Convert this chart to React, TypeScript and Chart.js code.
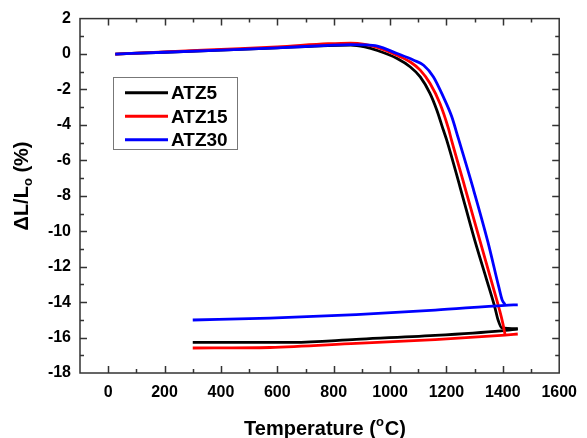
import React, { useEffect, useRef } from "react";
import { Chart, registerables } from "chart.js";

Chart.register(...registerables);

const SERIES_NAMES = ["ATZ5", "ATZ15", "ATZ30"];
const SERIES_COLORS = ["#000000", "#ff0000", "#0000ff"];

// Heating runs (temperature °C, ΔL/Lo %)
const ATZ5_HEAT_T = [25, 200, 400, 600, 780, 860, 910, 955, 1025, 1072, 1107, 1142, 1166, 1189, 1201, 1248, 1300, 1340, 1371, 1383, 1396, 1453];
const ATZ5_HEAT_DL = [0, 0.1, 0.22, 0.35, 0.48, 0.5, 0.4, 0.2, -0.25, -0.73, -1.29, -2.23, -3.17, -4.29, -4.86, -7.49, -10.49, -12.6, -14.25, -15.0, -15.45, -15.5];
const ATZ15_HEAT_T = [25, 200, 400, 600, 780, 860, 910, 955, 1025, 1072, 1107, 1142, 1177, 1207, 1218, 1265, 1318, 1360, 1388, 1400, 1408];
const ATZ15_HEAT_DL = [0, 0.12, 0.26, 0.4, 0.58, 0.62, 0.55, 0.37, -0.07, -0.45, -0.91, -1.66, -2.79, -4.2, -4.86, -7.49, -10.49, -12.85, -14.43, -15.2, -15.85];
const ATZ30_HEAT_T = [25, 200, 400, 600, 780, 860, 910, 955, 1025, 1084, 1119, 1154, 1189, 1218, 1242, 1295, 1347, 1385, 1398, 1408];
const ATZ30_HEAT_DL = [0, 0.1, 0.22, 0.35, 0.49, 0.53, 0.52, 0.45, 0.03, -0.35, -0.63, -1.29, -2.42, -3.5, -4.75, -7.6, -10.6, -13.1, -13.9, -14.12];

// Cooling runs
const ATZ5_COOL_T = [300, 656, 880, 1160, 1394, 1453];
const ATZ5_COOL_DL = [-16.27, -16.27, -16.1, -15.88, -15.62, -15.52];
const ATZ15_COOL_T = [300, 574, 880, 1160, 1408, 1453];
const ATZ15_COOL_DL = [-16.59, -16.56, -16.33, -16.12, -15.86, -15.8];
const ATZ30_COOL_T = [300, 574, 880, 1160, 1408, 1453];
const ATZ30_COOL_DL = [-15.01, -14.9, -14.7, -14.45, -14.18, -14.15];

const X_TICKS = [0, 200, 400, 600, 800, 1000, 1200, 1400, 1600];
const Y_TICKS = [-18, -16, -14, -12, -10, -8, -6, -4, -2, 0, 2];
const X_MIN = -100, X_MAX = 1600, Y_MIN = -18, Y_MAX = 2;

const FONT = "'Liberation Sans', Arial, sans-serif";

const toPoints = (xs: number[], ys: number[]) => xs.map((x, i) => ({ x, y: ys[i] }));

const decorPlugin = {
  id: "decor",
  afterDraw(chart: any) {
    const { ctx, chartArea, scales } = chart;
    const { left, right, top, bottom } = chartArea;
    const xs = scales.x, ys = scales.y;
    ctx.save();
    ctx.strokeStyle = "#333333";
    ctx.lineWidth = 1.5;
    ctx.beginPath();
    for (let v = X_MIN + 100; v < X_MAX; v += 100) {
      const p = Math.round(xs.getPixelForValue(v)) + 0.5;
      const len = v % 200 === 0 ? 7 : 4;
      ctx.moveTo(p, bottom); ctx.lineTo(p, bottom - len);
      ctx.moveTo(p, top); ctx.lineTo(p, top + len);
    }
    for (let v = Y_MIN + 1; v < Y_MAX; v += 1) {
      const p = Math.round(ys.getPixelForValue(v)) + 0.5;
      const len = v % 2 === 0 ? 7 : 4;
      ctx.moveTo(left, p); ctx.lineTo(left + len, p);
      ctx.moveTo(right, p); ctx.lineTo(right - len, p);
    }
    ctx.stroke();
    ctx.strokeRect(left, top, right - left, bottom - top);

    // legend
    ctx.strokeStyle = "#777777";
    ctx.lineWidth = 1;
    ctx.strokeRect(113.5, 77.5, 124, 72);
    const rowsLine = [92.7, 116.3, 139.7];
    const rowsBase = [99.3, 122.7, 146];
    ctx.font = `bold 19px ${FONT}`;
    ctx.textAlign = "left";
    ctx.textBaseline = "alphabetic";
    for (let i = 0; i < SERIES_NAMES.length; i++) {
      ctx.strokeStyle = SERIES_COLORS[i];
      ctx.lineWidth = 3;
      ctx.beginPath();
      ctx.moveTo(125, rowsLine[i]);
      ctx.lineTo(168, rowsLine[i]);
      ctx.stroke();
      ctx.fillStyle = "#000";
      ctx.fillText(SERIES_NAMES[i], 171, rowsBase[i]);
    }

    // x title: Temperature (°C)
    ctx.fillStyle = "#000";
    const big = `bold 20px ${FONT}`;
    const small = `bold 13px ${FONT}`;
    const p1 = "Temperature (", p2 = "o", p3 = "C)";
    ctx.font = big; const w1 = ctx.measureText(p1).width; const w3 = ctx.measureText(p3).width;
    ctx.font = small; const w2 = ctx.measureText(p2).width + 1;
    const total = w1 + w2 + w3;
    let sx = 325 - total / 2;
    const base = 434.5;
    ctx.font = big; ctx.fillText(p1, sx, base); sx += w1;
    ctx.font = small; ctx.fillText(p2, sx, base - 9); sx += w2;
    ctx.font = big; ctx.fillText(p3, sx, base);

    // y title: ΔL/Lo (%)
    ctx.save();
    ctx.translate(27.5, 186);
    ctx.rotate(-Math.PI / 2);
    const q1 = "\u0394L/L", q2 = "o", q3 = " (%)";
    ctx.font = big; const v1 = ctx.measureText(q1).width; const v3 = ctx.measureText(q3).width;
    ctx.font = small; const v2 = ctx.measureText(q2).width;
    let sy = -(v1 + v2 + v3) / 2;
    ctx.font = big; ctx.fillText(q1, sy, 0); sy += v1;
    ctx.font = small; ctx.fillText(q2, sy, 4); sy += v2;
    ctx.font = big; ctx.fillText(q3, sy, 0);
    ctx.restore();

    ctx.restore();
  },
};

export default function App() {
  const ref = useRef<HTMLCanvasElement | null>(null);
  useEffect(() => {
    document.body.style.margin = "0";
    const canvas = ref.current!;
    const runs: [number[], number[], number][] = [
      [ATZ5_HEAT_T, ATZ5_HEAT_DL, 0],
      [ATZ5_COOL_T, ATZ5_COOL_DL, 0],
      [ATZ15_HEAT_T, ATZ15_HEAT_DL, 1],
      [ATZ15_COOL_T, ATZ15_COOL_DL, 1],
      [ATZ30_HEAT_T, ATZ30_HEAT_DL, 2],
      [ATZ30_COOL_T, ATZ30_COOL_DL, 2],
    ];
    const chart = new Chart(canvas, {
      type: "line",
      data: {
        datasets: runs.map(([t, d, s]) => ({
          label: SERIES_NAMES[s],
          data: toPoints(t, d),
          borderColor: SERIES_COLORS[s],
          backgroundColor: SERIES_COLORS[s],
          borderWidth: 2.8,
          pointRadius: 0,
          cubicInterpolationMode: "monotone" as const,
          fill: false,
          order: 2 - s,
        })),
      },
      options: {
        responsive: false,
        animation: false,
        layout: { padding: { top: 18, right: 23, left: 0, bottom: 0 } },
        plugins: { legend: { display: false }, tooltip: { enabled: false } },
        scales: {
          x: {
            type: "linear",
            min: X_MIN,
            max: X_MAX,
            grid: { display: false, drawTicks: false },
            border: { display: false },
            afterBuildTicks: (s: any) => { s.ticks = X_TICKS.map((v) => ({ value: v })); },
            afterFit: (s: any) => { s.height = 65; },
            ticks: { color: "#000", font: { family: FONT, size: 16, weight: "bold" }, padding: 10, maxRotation: 0, callback: (v: any) => String(v) },
          },
          y: {
            type: "linear",
            min: Y_MIN,
            max: Y_MAX,
            grid: { display: false, drawTicks: false },
            border: { display: false },
            afterBuildTicks: (s: any) => { s.ticks = Y_TICKS.map((v) => ({ value: v })); },
            afterFit: (s: any) => { s.width = 80; },
            ticks: { color: "#000", font: { family: FONT, size: 16, weight: "bold" }, padding: 9, callback: (v: any) => String(v) },
          },
        },
      },
      plugins: [decorPlugin],
    });
    return () => chart.destroy();
  }, []);
  return (
    <div style={{ position: "absolute", left: 0, top: 0, width: 587, height: 438, background: "#fff" }}>
      <canvas ref={ref} width={587} height={438} />
    </div>
  );
}
